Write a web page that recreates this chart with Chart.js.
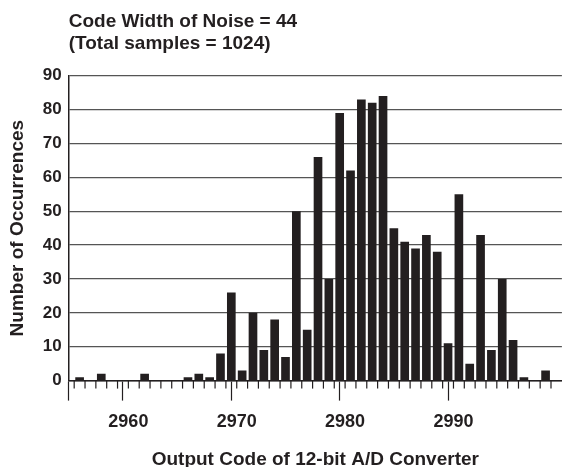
<!DOCTYPE html>
<html>
<head>
<meta charset="utf-8">
<script src="https://cdn.jsdelivr.net/npm/chart.js@4.4.0/dist/chart.umd.min.js"></script>
<style>
  html, body { margin: 0; padding: 0; background: #fff; }
  #wrap { width: 562px; height: 467px; }
</style>
</head>
<body>
<div id="wrap"><canvas id="histo"></canvas></div>
<script>
// output codes (one bin per code) and how many samples landed in each
var codes = [2955, 2956, 2957, 2958, 2959, 2960, 2961, 2962, 2963, 2964,
             2965, 2966, 2967, 2968, 2969, 2970, 2971, 2972, 2973, 2974,
             2975, 2976, 2977, 2978, 2979, 2980, 2981, 2982, 2983, 2984,
             2985, 2986, 2987, 2988, 2989, 2990, 2991, 2992, 2993, 2994,
             2995, 2996, 2997, 2998];
var counts = [1, 0, 2, 0, 0, 0, 2, 0, 0, 0,
              1, 2, 1, 8, 26, 3, 20, 9, 18, 7,
              50, 15, 66, 30, 79, 62, 83, 82, 84, 45,
              41, 39, 43, 38, 11, 55, 5, 43, 9, 30,
              12, 1, 0, 3];
var xTickLabels = [2960, 2970, 2980, 2990];
var longTicks = [2955, 2960, 2970, 2980, 2990];
var yTicks = [0, 10, 20, 30, 40, 50, 60, 70, 80, 90];

var ink = '#231f20';
var fam = '"Liberation Sans", Arial, Helvetica, sans-serif';

// short tick under every code boundary
var shortTicks = {
    id: 'shortTicks',
    afterDraw: function(chart) {
        var ctx = chart.ctx, x = chart.scales.x, bottom = chart.chartArea.bottom;
        ctx.save();
        ctx.strokeStyle = ink;
        ctx.lineWidth = 1.2;
        x.ticks.forEach(function(t) {
            var px = x.getPixelForValue(t.value);
            ctx.beginPath();
            ctx.moveTo(px, bottom);
            ctx.lineTo(px, bottom + 8);
            ctx.stroke();
        });
        ctx.restore();
    }
};

new Chart(document.getElementById('histo'), {
    type: 'bar',
    data: {
        datasets: [{
            data: codes.map(function(c, i) { return {x: c + 0.5, y: counts[i]}; }),
            backgroundColor: ink,
            borderWidth: 0,
            barPercentage: 0.8,
            categoryPercentage: 1
        }]
    },
    options: {
        responsive: true,
        maintainAspectRatio: false,
        animation: false,
        layout: { padding: { left: 0, right: 0, top: 0, bottom: -4 } },
        plugins: {
            legend: { display: false },
            tooltip: { enabled: false },
            title: {
                display: true,
                text: ['Code Width of Noise = 44', '(Total samples = 1024)'],
                align: 'start',
                fullSize: false,
                color: ink,
                font: { family: fam, size: 19, weight: 'bold', lineHeight: 1.15 },
                padding: { top: 11, bottom: 21 }
            }
        },
        scales: {
            x: {
                type: 'linear',
                min: codes[0],
                max: codes[codes.length - 1] + 1.5,
                afterBuildTicks: function(axis) {
                    axis.ticks = codes.concat([codes[codes.length - 1] + 1]).map(function(v) { return {value: v}; });
                },
                ticks: {
                    autoSkip: false,
                    maxRotation: 0,
                    padding: 11,
                    color: ink,
                    font: { family: fam, size: 18, weight: 'bold' },
                    callback: function(v) { return xTickLabels.indexOf(v) >= 0 ? String(v) : ''; }
                },
                grid: {
                    drawOnChartArea: false,
                    drawTicks: true,
                    tickLength: 20,
                    tickWidth: 1.2,
                    tickColor: function(c) {
                        return c.tick && longTicks.indexOf(c.tick.value) >= 0 ? ink : 'rgba(0,0,0,0)';
                    }
                },
                border: { display: true, color: ink, width: 1.5 },
                title: {
                    display: true,
                    text: 'Output Code of 12-bit A/D Converter',
                    color: ink,
                    font: { family: fam, size: 19, weight: 'bold' },
                    padding: { top: 4, bottom: 0 }
                }
            },
            y: {
                min: 0,
                max: 90,
                afterBuildTicks: function(axis) {
                    axis.ticks = yTicks.map(function(v) { return {value: v}; });
                },
                ticks: {
                    padding: 7,
                    color: ink,
                    font: { family: fam, size: 17, weight: 'bold' }
                },
                grid: {
                    drawTicks: false,
                    color: '#555',
                    lineWidth: 1.2
                },
                border: { display: true, color: ink, width: 1.5 },
                title: {
                    display: true,
                    text: 'Number of Occurrences',
                    color: ink,
                    font: { family: fam, size: 19, weight: 'bold' },
                    padding: { top: 6, bottom: 7 }
                }
            }
        }
    },
    plugins: [shortTicks]
});
</script>
</body>
</html>
